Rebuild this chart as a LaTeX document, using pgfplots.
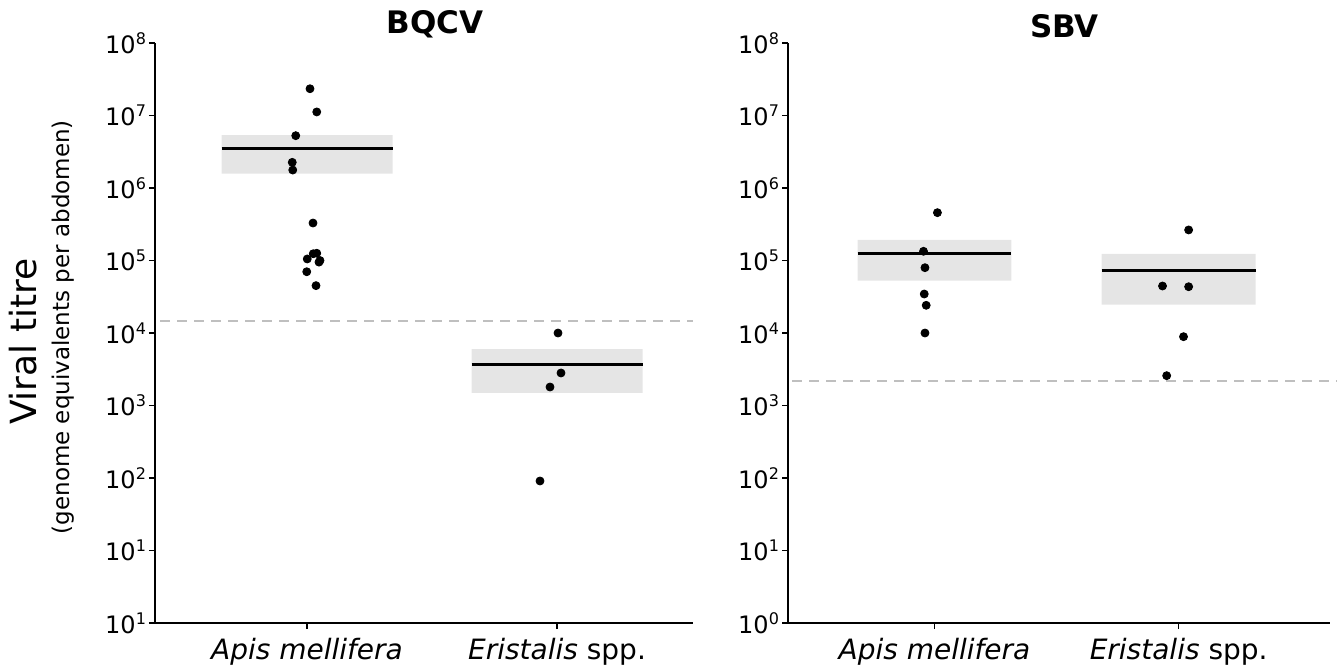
\documentclass[border=0pt]{standalone}
\usepackage{pgfplots}
\pgfplotsset{compat=1.18}
\usepackage{fontspec}
\setmainfont{DejaVu Sans}
\definecolor{boxgray}{RGB}{229,229,229}
\definecolor{cutoff}{RGB}{191,191,191}
\newcommand\tp[1]{10\textsuperscript{#1}}

\tikzset{
  dot/.style={only marks, mark=*, mark size=2pt, mark options={draw=black, fill=black}},
  med/.style={black, line width=1.5pt},
  band/.style={fill=boxgray, draw=none},
  lod/.style={cutoff, line width=0.9pt, dash pattern=on 5pt off 3.5pt},
}

\begin{document}
\begin{tikzpicture}
\path[use as bounding box] (0,0) rectangle (668.5pt,335.5pt);

% BQCV
\begin{axis}[at={(77.5pt,24pt)}, anchor=south west,
  scale only axis, width=269pt, height=290pt,
  xmin=-0.608, xmax=1.544,
  ymode=log, ymin=1, ymax=1e8,
  ytick={1,10,100,1e3,1e4,1e5,1e6,1e7,1e8},
  yminorticks=false,
  axis x line*=bottom, axis y line*=left,
  axis line style={line width=1pt},
  tick align=outside, major tick length=3pt,
  tick style={black, line width=0.8pt},
  xtick={0,1},
  xticklabels={{\itshape Apis mellifera},{{\itshape Eristalis} spp.}},
  x tick label style={font=\fontsize{14}{16}\selectfont, yshift=-1pt},
  y tick label style={font=\fontsize{12}{14}\selectfont, xshift=2.5pt},
  clip=false,
  title={BQCV},
  title style={font=\fontsize{15.5}{18}\selectfont\bfseries, at={(0.52,1)}, anchor=south, yshift=-7pt},
  yticklabels={\tp{1},\tp{1},\tp{2},\tp{3},\tp{4},\tp{5},\tp{6},\tp{7},\tp{8}},
]
\addplot[lod] coordinates {(-0.588,1.48e4) (1.544,1.48e4)};
\addplot[band] coordinates {(-0.342,1.58e6) (0.342,1.58e6) (0.342,5.38e6) (-0.342,5.38e6) (-0.342,1.58e6)};
\addplot[band] coordinates {(0.658,1.49e3) (1.342,1.49e3) (1.342,6.0e3) (0.658,6.0e3) (0.658,1.49e3)};
\addplot[med] coordinates {(-0.342,3.49e6) (0.342,3.49e6)};
\addplot[med] coordinates {(0.658,3.73e3) (1.342,3.73e3)};
\addplot[dot] coordinates {
  (0.012,2.34e7) (0.039,1.12e7) (-0.045,5.27e6) (-0.059,2.26e6) (-0.057,1.77e6)
  (0.024,3.29e5) (0.039,1.26e5) (0.025,1.24e5) (0.001,1.05e5) (0.052,1.0e5)
  (0.048,9.5e4) (-0.001,7.0e4) (0.036,4.5e4)
};
\addplot[dot] coordinates {(1.004,1.0e4) (1.016,2.81e3) (0.972,1.80e3) (0.932,91)};
% axis label, two lines of different size
\node[rotate=90, anchor=base, font=\fontsize{18}{21}\selectfont]
  at (axis description cs:-0.22,0.485) {Viral titre};
\node[rotate=90, anchor=base, font=\fontsize{11.5}{13}\selectfont]
  at (axis description cs:-0.158,0.51) {(genome equivalents per abdomen)};
\end{axis}

% SBV
\begin{axis}[at={(394pt,24pt)}, anchor=south west,
  scale only axis, width=271pt, height=290pt,
  xmin=-0.6, xmax=1.62,
  ymode=log, ymin=1, ymax=1e8,
  ytick={1,10,100,1e3,1e4,1e5,1e6,1e7,1e8},
  yminorticks=false,
  axis x line*=bottom, axis y line*=left,
  axis line style={line width=1pt},
  tick align=outside, major tick length=3pt,
  tick style={black, line width=0.8pt},
  xtick={0,1},
  xticklabels={{\itshape Apis mellifera},{{\itshape Eristalis} spp.}},
  x tick label style={font=\fontsize{14}{16}\selectfont, yshift=-1pt},
  y tick label style={font=\fontsize{12}{14}\selectfont, xshift=2.5pt},
  clip=false,
  title={SBV},
  title style={font=\fontsize{15.5}{18}\selectfont\bfseries, at={(0.51,1)}, anchor=south, yshift=-7pt},
  yticklabels={\tp{0},\tp{1},\tp{2},\tp{3},\tp{4},\tp{5},\tp{6},\tp{7},\tp{8}},
]
\addplot[lod] coordinates {(-0.582,2.2e3) (1.648,2.2e3)};
\addplot[band] coordinates {(-0.315,5.27e4) (0.315,5.27e4) (0.315,1.92e5) (-0.315,1.92e5) (-0.315,5.27e4)};
\addplot[band] coordinates {(0.685,2.46e4) (1.315,2.46e4) (1.315,1.23e5) (0.685,1.23e5) (0.685,2.46e4)};
\addplot[med] coordinates {(-0.315,1.23e5) (0.315,1.23e5)};
\addplot[med] coordinates {(0.685,7.23e4) (1.315,7.23e4)};
\addplot[dot] coordinates {
  (0.012,4.57e5) (-0.045,1.34e5) (-0.039,7.96e4) (-0.042,3.45e4) (-0.034,2.41e4) (-0.039,1.0e4)
};
\addplot[dot] coordinates {(1.041,2.64e5) (0.934,4.45e4) (1.041,4.35e4) (1.02,8.9e3) (0.951,2.58e3)};
\end{axis}
\end{tikzpicture}
\end{document}
